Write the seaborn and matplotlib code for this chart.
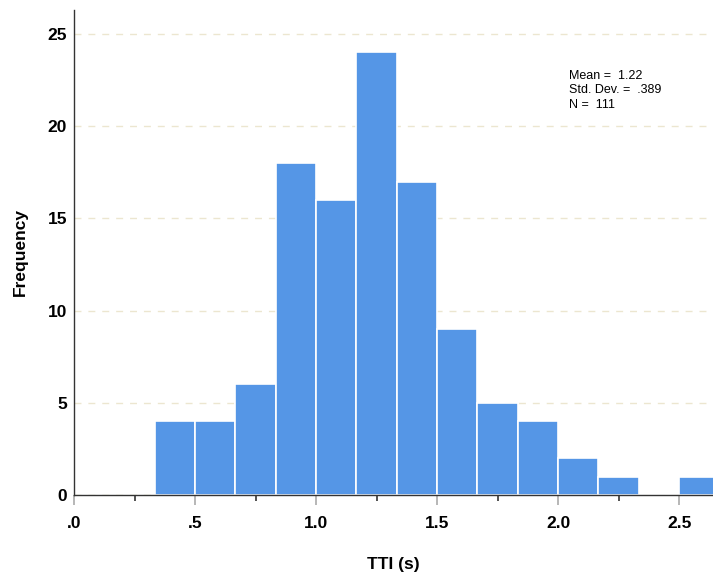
import matplotlib as mpl
mpl.use('Agg')

import matplotlib.pyplot as plt
import numpy as np
import seaborn as sns
from matplotlib.ticker import MultipleLocator

# histogram data (bins of width 1/6 s)
bin_edges = [2/6, 3/6, 4/6, 5/6, 6/6, 7/6, 8/6, 9/6, 10/6, 11/6, 12/6, 13/6, 14/6, 15/6, 16/6]
counts = [4, 4, 6, 18, 16, 24, 17, 9, 5, 4, 2, 1, 0, 1]
x_ticks = [0.0, 0.5, 1.0, 1.5, 2.0, 2.5]
x_tick_labels = ['.0', '.5', '1.0', '1.5', '2.0', '2.5']
y_ticks = [0, 5, 10, 15, 20, 25]
stats_text = 'Mean =  1.22\nStd. Dev. =  .389\nN =  111'

centers = [(a + b) / 2 for a, b in zip(bin_edges[:-1], bin_edges[1:])]

sns.set_style('white')
plt.rcParams['font.family'] = ['Liberation Sans', 'DejaVu Sans']
plt.rcParams['text.color'] = 'black'
plt.rcParams['axes.labelcolor'] = 'black'
plt.rcParams['xtick.labelcolor'] = 'black'
plt.rcParams['ytick.labelcolor'] = 'black'

fig = plt.figure(figsize=(7.13, 5.77), dpi=100)
ax = fig.add_axes([74/713, 82/577, 639/713, 485/577])

sns.histplot(x=centers, weights=counts, bins=bin_edges, ax=ax,
             color='#5596E6', alpha=1, edgecolor='white', linewidth=1.2)

ax.set_xlim(0, 2.64)
ax.set_ylim(0, 26.3)
ax.set_yticks(y_ticks)
ax.set_yticklabels([str(v) for v in y_ticks], fontsize=12.5, fontweight='bold')
ax.set_xticks(x_ticks)
ax.set_xticklabels(x_tick_labels, fontsize=12.5, fontweight='bold')
ax.xaxis.set_minor_locator(MultipleLocator(0.25))

ax.yaxis.grid(True, linestyle=(0, (5, 5)), color='#ECE6D0', linewidth=1)
ax.set_axisbelow(True)

ax.tick_params(axis='y', length=0, pad=5)
ax.tick_params(axis='x', which='major', length=7, width=1.2, color='#AAAAAA',
               direction='out', pad=8, bottom=True)
ax.tick_params(axis='x', which='minor', length=4.5, width=1.2, color='#333333',
               direction='out', bottom=True)

for side in ['top', 'right']:
    ax.spines[side].set_visible(False)
for side in ['left', 'bottom']:
    ax.spines[side].set_color('#333333')
    ax.spines[side].set_linewidth(1)

ax.set_xlabel('TTI (s)', fontsize=12.5, fontweight='bold', labelpad=19)
ax.set_ylabel('Frequency', fontsize=12.5, fontweight='bold', labelpad=14)

ax.text(0.775, 0.877, stats_text, transform=ax.transAxes, fontsize=9,
        va='top', ha='left', linespacing=1.3)

fig.savefig('out.png', dpi=100)
